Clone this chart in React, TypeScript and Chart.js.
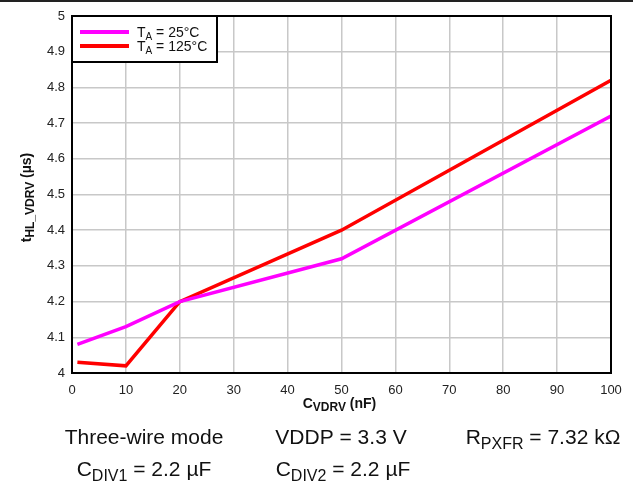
import React, { useEffect, useRef } from "react";
import { Chart, registerables } from "chart.js";

Chart.register(...registerables);

const capacitanceNF = [1, 10, 20, 50, 100];
const tHL25C = [4.08, 4.13, 4.2, 4.32, 4.72];
const tHL125C = [4.03, 4.02, 4.2, 4.4, 4.82];
const seriesNames = ["25°C", "125°C"];
const seriesColors = ["#ff00ff", "#ff0000"];
const footerLine1 = [
  [{ t: "Three-wire mode" }],
  [{ t: "VDDP = 3.3 V" }],
  [{ t: "R" }, { t: "PXFR", sub: true }, { t: " = 7.32 kΩ" }],
];
const footerLine2 = [
  [{ t: "C" }, { t: "DIV1", sub: true }, { t: " = 2.2 µF" }],
  [{ t: "C" }, { t: "DIV2", sub: true }, { t: " = 2.2 µF" }],
];

type Part = { t: string; sub?: boolean };
const FAMILY = '"Liberation Sans", Arial, Helvetica, sans-serif';

function drawRich(
  ctx: CanvasRenderingContext2D,
  parts: Part[],
  x: number,
  y: number,
  size: number,
  bold: boolean,
  align: "center" | "left",
  color = "#000",
  subRatio = 0.74
) {
  const subSize = Math.round(size * subRatio);
  const font = (s: number) => `${bold ? "bold " : ""}${s}px ${FAMILY}`;
  let w = 0;
  const widths: number[] = [];
  for (const p of parts) {
    ctx.font = font(p.sub ? subSize : size);
    const m = ctx.measureText(p.t).width;
    widths.push(m);
    w += m;
  }
  let cx = align === "center" ? x - w / 2 : x;
  ctx.fillStyle = color;
  ctx.textBaseline = "alphabetic";
  ctx.textAlign = "left";
  parts.forEach((p, i) => {
    ctx.font = font(p.sub ? subSize : size);
    ctx.fillText(p.t, cx, p.sub ? y + size * 0.24 : y);
    cx += widths[i];
  });
}

const decorPlugin = {
  id: "decor",
  afterDraw(chart: any) {
    const ctx: CanvasRenderingContext2D = chart.ctx;
    const a = chart.chartArea;
    ctx.save();
    // top rule
    ctx.strokeStyle = "#222";
    ctx.lineWidth = 2;
    ctx.beginPath();
    ctx.moveTo(0, 1);
    ctx.lineTo(chart.width, 1);
    ctx.stroke();
    // frame
    ctx.strokeStyle = "#000";
    ctx.lineWidth = 2;
    ctx.strokeRect(a.left, a.top, a.right - a.left, a.bottom - a.top);

    // legend
    const lx = a.left, ly = a.top, lw = 145, lh = 46;
    ctx.fillStyle = "#fff";
    ctx.fillRect(lx, ly, lw, lh);
    ctx.strokeRect(lx, ly, lw, lh);
    seriesNames.forEach((name, i) => {
      const yy = ly + 16 + i * 14;
      ctx.strokeStyle = seriesColors[i];
      ctx.lineWidth = 4;
      ctx.beginPath();
      ctx.moveTo(lx + 8, yy);
      ctx.lineTo(lx + 57, yy);
      ctx.stroke();
      drawRich(ctx, [{ t: "T" }, { t: "A", sub: true }, { t: " = " + name }], lx + 65, yy + 5, 14, false, "left", "#111");
    });

    // axis titles
    const cxm = (a.left + a.right) / 2;
    drawRich(ctx, [{ t: "C" }, { t: "VDRV", sub: true }, { t: " (nF)" }], cxm - 2, 408, 14, true, "center", "#111", 0.86);
    ctx.save();
    ctx.translate(31, (a.top + a.bottom) / 2 + 3);
    ctx.rotate(-Math.PI / 2);
    drawRich(ctx, [{ t: "t" }, { t: "HL_VDRV", sub: true }, { t: " (µs)" }], 0, 0, 14, true, "center", "#111", 0.86);
    ctx.restore();

    // footer
    const cols = [144, 341, 543];
    footerLine1.forEach((p, i) => drawRich(ctx, p as Part[], cols[i], 444, 21, false, "center", "#111"));
    footerLine2.forEach((p, i) => drawRich(ctx, p as Part[], cols[i] + (i === 1 ? 2 : 0), 476, 21, false, "center", "#111"));
    ctx.restore();
  },
};

export default function App() {
  const ref = useRef<HTMLCanvasElement>(null);
  useEffect(() => {
    if (!ref.current) return;
    const mk = (vals: number[]) => capacitanceNF.map((x, i) => ({ x, y: vals[i] }));
    const chart = new Chart(ref.current, {
      type: "line",
      data: {
        datasets: [
          { label: seriesNames[0], data: mk(tHL25C), borderColor: seriesColors[0], borderWidth: 3.5, pointRadius: 0, tension: 0 },
          { label: seriesNames[1], data: mk(tHL125C), borderColor: seriesColors[1], borderWidth: 3.5, pointRadius: 0, tension: 0 },
        ],
      },
      options: {
        animation: false,
        responsive: false,
        layout: { padding: { left: 0, top: 16, right: 22, bottom: 80 } },
        plugins: { legend: { display: false }, tooltip: { enabled: false }, title: { display: false } },
        scales: {
          x: {
            type: "linear",
            min: 0,
            max: 100,
            ticks: { stepSize: 10, color: "#222", font: { size: 13, family: FAMILY }, padding: 10, maxRotation: 0 },
            grid: { color: "#c8c8c8", lineWidth: 1.5, drawTicks: false },
            border: { display: false },
            afterFit: (s: any) => { s.height = 30; },
          },
          y: {
            min: 4,
            max: 5,
            ticks: {
              stepSize: 0.1,
              color: "#222",
              font: { size: 13, family: FAMILY },
              padding: 7,
              callback: (v: any) => String(Number(Number(v).toFixed(1))),
            },
            grid: { color: "#c8c8c8", lineWidth: 1.5, drawTicks: false },
            border: { display: false },
            afterFit: (s: any) => { s.width = 72; },
          },
        },
      },
      plugins: [decorPlugin],
    });
    return () => chart.destroy();
  }, []);
  return (
    <div style={{ position: "fixed", left: 0, top: 0, width: 633, height: 483, background: "#fff" }}>
      <canvas ref={ref} width={633} height={483} />
    </div>
  );
}
